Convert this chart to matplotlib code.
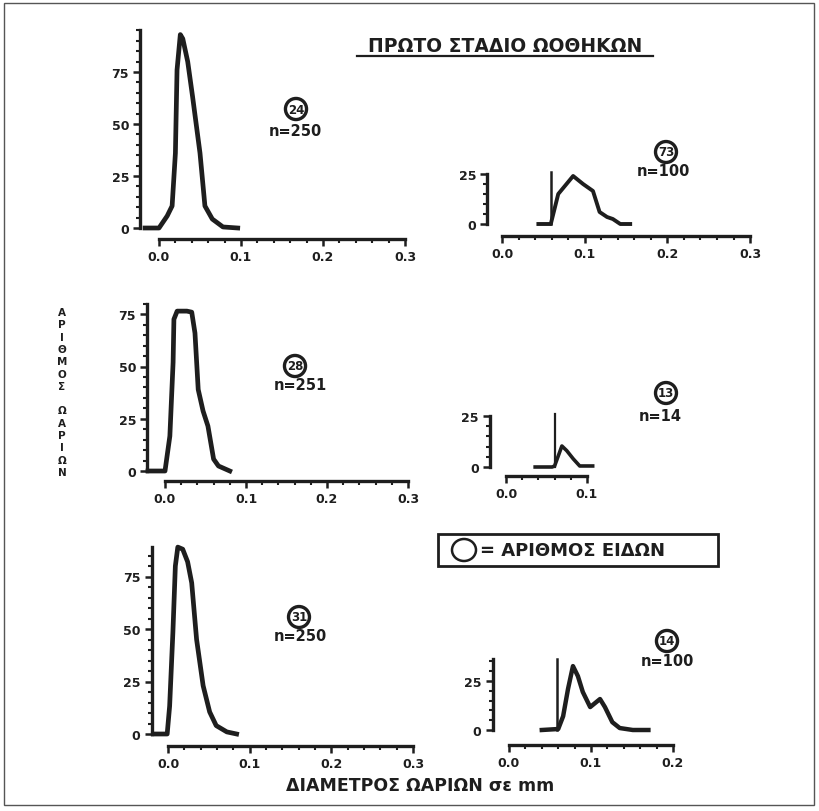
import matplotlib
matplotlib.use("Agg")
import matplotlib.pyplot as plt
from matplotlib.ticker import FixedLocator, FixedFormatter
from matplotlib.patches import Rectangle, Ellipse
from matplotlib.lines import Line2D

W, H = 819, 812
plt.rcParams['font.family'] = ['DejaVu Sans']
plt.rcParams['font.weight'] = 'bold'

# ---------------- data ----------------
p1_x = [-0.017, 0.0, 0.01, 0.016, 0.02, 0.022, 0.026, 0.029, 0.035, 0.041, 0.05, 0.056, 0.065, 0.078, 0.096]
p1_y = [0, 0, 5.8, 10.6, 36, 76, 93, 91, 80, 63, 36, 10.6, 4.3, 0.5, 0]

p2_x = [0.044, 0.059, 0.068, 0.086, 0.098, 0.11, 0.118, 0.127, 0.134, 0.143, 0.155]
p2_y = [0, 0, 15, 24, 20, 16.5, 6, 3.5, 2.5, 0, 0]

p3_x = [-0.021, 0.0, 0.006, 0.01, 0.011, 0.015, 0.027, 0.033, 0.037, 0.041, 0.047, 0.053, 0.06, 0.066, 0.08]
p3_y = [0, 0, 16.7, 52, 72.6, 76.5, 76.5, 76, 66, 39, 28.7, 21.5, 5.7, 2.4, 0]

p4_x = [0.036, 0.057, 0.060, 0.069, 0.075, 0.083, 0.091, 0.107]
p4_y = [0, 0, 0.5, 10.3, 8, 4, 0.5, 0.5]

p5_x = [-0.018, -0.001, 0.002, 0.006, 0.009, 0.012, 0.018, 0.024, 0.029, 0.035, 0.043, 0.051, 0.059, 0.072, 0.084]
p5_y = [0, 0, 13.3, 48.5, 80, 89, 88, 82, 72, 45, 23, 10.5, 4, 1, 0]

p6_x = [0.040, 0.060, 0.066, 0.072, 0.078, 0.084, 0.090, 0.099, 0.111, 0.117, 0.126, 0.135, 0.151, 0.170]
p6_y = [0, 0.5, 7, 21, 32.6, 27.5, 19.4, 11.7, 15.8, 11.7, 4, 1, 0, 0]

# vertical reference strokes in the small panels (x position, height)
vline_x = [0.059, 0.060, 0.059]
vline_top = [26, 26, 36]

species = ["24", "73", "28", "13", "31", "14"]
counts = ["n=250", "n=100", "n=251", "n=14", "n=250", "n=100"]

x_ticks_long = [0.0, 0.1, 0.2, 0.3]
x_ticks_short = [0.0, 0.1]
x_ticks_mid = [0.0, 0.1, 0.2]
x_tick_labels_long = ["0.0", "0.1", "0.2", "0.3"]
x_tick_labels_short = ["0.0", "0.1"]
x_tick_labels_mid = ["0.0", "0.1", "0.2"]
y_ticks_big = [0, 25, 50, 75]
y_ticks_small = [0, 25]

title = "ΠΡΩΤΟ ΣΤΑΔΙΟ ΩΟΘΗΚΩΝ"
ylabel_letters = ["Α", "Ρ", "Ι", "Θ", "Μ", "Ο", "Σ", "", "Ω", "Α", "Ρ", "Ι", "Ω", "Ν"]
xlabel = "ΔΙΑΜΕΤΡΟΣ ΩΑΡΙΩΝ σε mm"
legend_text = "= ΑΡΙΘΜΟΣ ΕΙΔΩΝ"

# ---------------- figure ----------------
fig = plt.figure(figsize=(W / 100, H / 100), dpi=100)
fig.patch.set_facecolor("white")
INK = "#1e1e1e"


def fx(px):
    return px / W


def fy(py):
    return 1 - py / H


def make_axes(x0, sx, y0, sy, xlim, ylim, ytop, xmax, xoff, xt, xtl, yt):
    left = (x0 + xlim[0] * sx) / W
    width = (xlim[1] - xlim[0]) * sx / W
    bottom = (H - (y0 - ylim[0] * sy)) / H
    height = (ylim[1] - ylim[0]) * sy / H
    ax = fig.add_axes([left, bottom, width, height])
    ax.set_xlim(xlim)
    ax.set_ylim(ylim)
    ax.patch.set_alpha(0)
    for s in ["top", "right"]:
        ax.spines[s].set_visible(False)
    ax.spines["left"].set_bounds(0, ytop)
    ax.spines["bottom"].set_bounds(0, xmax)
    ax.spines["bottom"].set_position(("outward", xoff * 0.72))
    for s in ["left", "bottom"]:
        ax.spines[s].set_linewidth(2.4)
        ax.spines[s].set_color(INK)
    ax.xaxis.set_major_locator(FixedLocator(xt))
    ax.xaxis.set_major_formatter(FixedFormatter(xtl))
    ax.xaxis.set_minor_locator(FixedLocator([v / 100 for v in range(0, int(round(xmax * 100)) + 1, 2)]))
    ax.yaxis.set_major_locator(FixedLocator(yt))
    ax.yaxis.set_minor_locator(FixedLocator(list(range(0, int(ytop) + 1, 5))))
    ax.tick_params(which="major", direction="out", length=5, width=1.8, color=INK,
                   labelsize=9, pad=3)
    ax.tick_params(which="minor", direction="out", length=3, width=1.5, color=INK)
    for lab in ax.get_xticklabels() + ax.get_yticklabels():
        lab.set_fontweight("heavy")
        lab.set_color(INK)
    return ax


# panel 1 (top-left)
ax1 = make_axes(159, 820, 229, 2.08, (-0.023, 0.31), (0, 100), 95, 0.3, 11,
                x_ticks_long, x_tick_labels_long, y_ticks_big)
ax1.plot(p1_x, p1_y, color=INK, lw=3.4, clip_on=False, solid_joinstyle="round")

# panel 2 (top-right)
ax2 = make_axes(502, 827, 225, 2.0, (-0.018, 0.31), (0, 30), 25, 0.3, 12,
                x_ticks_long, x_tick_labels_long, y_ticks_small)
ax2.plot(p2_x, p2_y, color=INK, lw=2.8, clip_on=False, solid_joinstyle="round")
ax2.plot([vline_x[0], vline_x[0]], [0, vline_top[0]], color=INK, lw=1.8, clip_on=False)

# panel 3 (middle-left)
ax3 = make_axes(165, 810, 472, 2.09, (-0.022, 0.31), (0, 100), 80, 0.3, 10,
                x_ticks_long, x_tick_labels_long, y_ticks_big)
ax3.plot(p3_x, p3_y, color=INK, lw=3.4, clip_on=False, solid_joinstyle="round")

# panel 4 (middle-right)
ax4 = make_axes(506, 810, 468, 2.04, (-0.02, 0.11), (0, 30), 25, 0.1, 9,
                x_ticks_short, x_tick_labels_short, y_ticks_small)
ax4.plot(p4_x, p4_y, color=INK, lw=2.6, clip_on=False, solid_joinstyle="round")
ax4.plot([vline_x[1], vline_x[1]], [0, vline_top[1]], color=INK, lw=1.6, clip_on=False)

# panel 5 (bottom-left)
ax5 = make_axes(168, 817, 735, 2.1, (-0.02, 0.31), (0, 100), 89, 0.3, 12,
                x_ticks_long, x_tick_labels_long, y_ticks_big)
ax5.plot(p5_x, p5_y, color=INK, lw=3.4, clip_on=False, solid_joinstyle="round")

# panel 6 (bottom-right)
ax6 = make_axes(509, 820, 731, 1.96, (-0.02, 0.21), (0, 40), 36, 0.2, 15,
                x_ticks_mid, x_tick_labels_mid, y_ticks_small)
ax6.plot(p6_x, p6_y, color=INK, lw=3.2, clip_on=False, solid_joinstyle="round")
ax6.plot([vline_x[2], vline_x[2]], [0, vline_top[2]], color=INK, lw=1.8, clip_on=False)

# ---------------- annotations ----------------
circle_pos = [(296, 110), (666, 153), (295, 367), (666, 394), (299, 618), (667, 642)]
count_pos = [(295, 131), (663, 172), (300, 386), (660, 417), (300, 637), (667, 662)]
for lab, (cx, cy) in zip(species, circle_pos):
    fig.text(fx(cx), fy(cy), lab, ha="center", va="center", fontsize=8.5, fontweight="heavy",
             color=INK,
             bbox=dict(boxstyle="circle,pad=0.2", fc="white", ec=INK, lw=2.4))
for lab, (cx, cy) in zip(counts, count_pos):
    fig.text(fx(cx), fy(cy), lab, ha="center", va="center", fontsize=10.5, fontweight="heavy",
             color=INK)

# title with underline
fig.text(fx(505), fy(46), title, ha="center", va="center", fontsize=13.5, fontweight="heavy",
         color=INK)
fig.add_artist(Line2D([fx(357), fx(653)], [fy(57), fy(57)], color=INK, lw=1.6))

# stacked vertical y label
for i, ch in enumerate(ylabel_letters):
    if ch:
        fig.text(fx(62), fy(313 + i * 12.3), ch, ha="center", va="center", fontsize=7.5,
                 fontweight="heavy", color=INK)

# x label
fig.text(fx(420), fy(786), xlabel, ha="center", va="center", fontsize=12.5, fontweight="heavy",
         color=INK)

# legend box
fig.add_artist(Rectangle((fx(438), fy(567)), fx(718) - fx(438), fy(535) - fy(567),
                         transform=fig.transFigure, fill=False, ec=INK, lw=2.0))
fig.add_artist(Ellipse((fx(464), fy(551)), 24 / W, 22 / H, transform=fig.transFigure,
                       fill=False, ec=INK, lw=1.8))
fig.text(fx(480), fy(551), legend_text, ha="left", va="center", fontsize=13,
         fontweight="heavy", color=INK)

# page frame of the scan
fig.add_artist(Rectangle((fx(4), fy(806)), fx(814) - fx(4), fy(4) - fy(806),
                         transform=fig.transFigure, fill=False, ec="#555555", lw=1.0))

fig.savefig("out.png", dpi=100, facecolor="white")
